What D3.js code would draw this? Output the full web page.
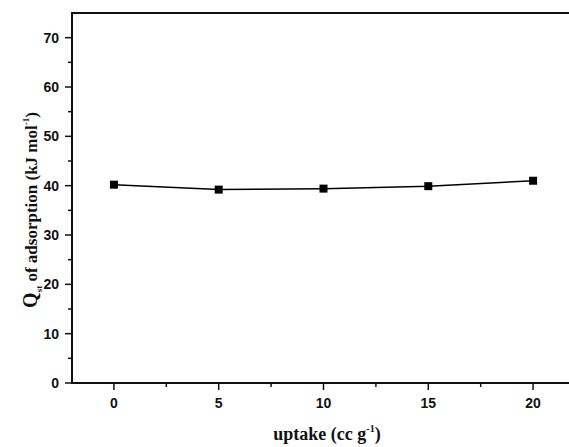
<!DOCTYPE html>
<html>
<head>
<meta charset="utf-8">
<script src="https://cdn.jsdelivr.net/npm/d3@7"></script>
<style>
  body { margin: 0; background: #fff; }
  svg { display: block; }
  .tick-label { font-family: "Liberation Sans", Arial, sans-serif; font-weight: bold; font-size: 14px; fill: #111; }
  .axis-title { font-family: "Liberation Serif", "Times New Roman", serif; font-weight: bold; font-size: 18px; fill: #111; }
</style>
</head>
<body>
<svg width="569" height="447"></svg>
<script>
// data
var uptake = [0, 5, 10, 15, 20];
var qst = [40.2, 39.2, 39.4, 39.9, 41.0];
var xTicks = [0, 5, 10, 15, 20];
var yTicks = [0, 10, 20, 30, 40, 50, 60, 70];

var svg = d3.select("svg");

var margin = {left: 72, top: 13, bottom: 383};

var x = d3.scaleLinear().domain([-2, 22]).range([margin.left, 575]);
var y = d3.scaleLinear().domain([0, 75]).range([margin.bottom, margin.top]);

// frame (right side runs off the picture)
svg.append("path")
    .attr("d", "M" + x(22) + "," + y(75) + "H" + x(-2) + "V" + y(0) + "H" + x(22))
    .attr("fill", "none")
    .attr("stroke", "#111")
    .attr("stroke-width", 2);

// y ticks
var yMinor = d3.range(5, 75, 10);
svg.selectAll(".ymaj").data(yTicks).enter().append("line")
    .attr("x1", x(-2)).attr("x2", x(-2) - 7)
    .attr("y1", function(d) { return y(d); }).attr("y2", function(d) { return y(d); })
    .attr("stroke", "#111").attr("stroke-width", 1.5);
svg.selectAll(".ymin").data(yMinor).enter().append("line")
    .attr("x1", x(-2)).attr("x2", x(-2) - 4)
    .attr("y1", function(d) { return y(d); }).attr("y2", function(d) { return y(d); })
    .attr("stroke", "#111").attr("stroke-width", 1.5);
svg.selectAll(".ylab").data(yTicks).enter().append("text")
    .attr("class", "tick-label")
    .attr("x", 59)
    .attr("y", function(d) { return y(d) + 5; })
    .attr("text-anchor", "end")
    .text(function(d) { return d; });

// x ticks
var xMinor = [2.5, 7.5, 12.5, 17.5];
svg.selectAll(".xmaj").data(xTicks).enter().append("line")
    .attr("x1", function(d) { return x(d); }).attr("x2", function(d) { return x(d); })
    .attr("y1", y(0)).attr("y2", y(0) + 7)
    .attr("stroke", "#111").attr("stroke-width", 1.5);
svg.selectAll(".xmin").data(xMinor).enter().append("line")
    .attr("x1", function(d) { return x(d); }).attr("x2", function(d) { return x(d); })
    .attr("y1", y(0)).attr("y2", y(0) + 4)
    .attr("stroke", "#111").attr("stroke-width", 1.5);
svg.selectAll(".xlab").data(xTicks).enter().append("text")
    .attr("class", "tick-label")
    .attr("x", function(d) { return x(d); })
    .attr("y", 408)
    .attr("text-anchor", "middle")
    .text(function(d) { return d; });

// line + square markers
var pts = uptake.map(function(u, i) { return [u, qst[i]]; });
var line = d3.line()
    .x(function(d) { return x(d[0]); })
    .y(function(d) { return y(d[1]); });

svg.append("path")
    .datum(pts)
    .attr("d", line)
    .attr("fill", "none")
    .attr("stroke", "#000")
    .attr("stroke-width", 1.5);

svg.selectAll(".pt").data(pts).enter().append("rect")
    .attr("x", function(d) { return x(d[0]) - 4; })
    .attr("y", function(d) { return y(d[1]) - 4; })
    .attr("width", 8).attr("height", 8)
    .attr("fill", "#000");

// axis titles
var xt = svg.append("text")
    .attr("class", "axis-title")
    .attr("x", 327).attr("y", 440)
    .attr("text-anchor", "middle");
xt.append("tspan").text("uptake (cc g");
xt.append("tspan").attr("dy", -8).style("font-size", "10px").text("-1");
xt.append("tspan").attr("dy", 8).text(")");

var yt = svg.append("text")
    .attr("class", "axis-title")
    .attr("transform", "translate(37,210) rotate(-90)")
    .attr("text-anchor", "middle")
    .style("font-size", "17px");
yt.append("tspan").style("font-size", "20px").text("Q");
yt.append("tspan").attr("dy", 5).style("font-size", "9px").text("st");
yt.append("tspan").attr("dy", -5).text(" of adsorption (kJ mol");
yt.append("tspan").attr("dy", -8).style("font-size", "9px").text("-1");
yt.append("tspan").attr("dy", 8).text(")");
</script>
</body>
</html>
